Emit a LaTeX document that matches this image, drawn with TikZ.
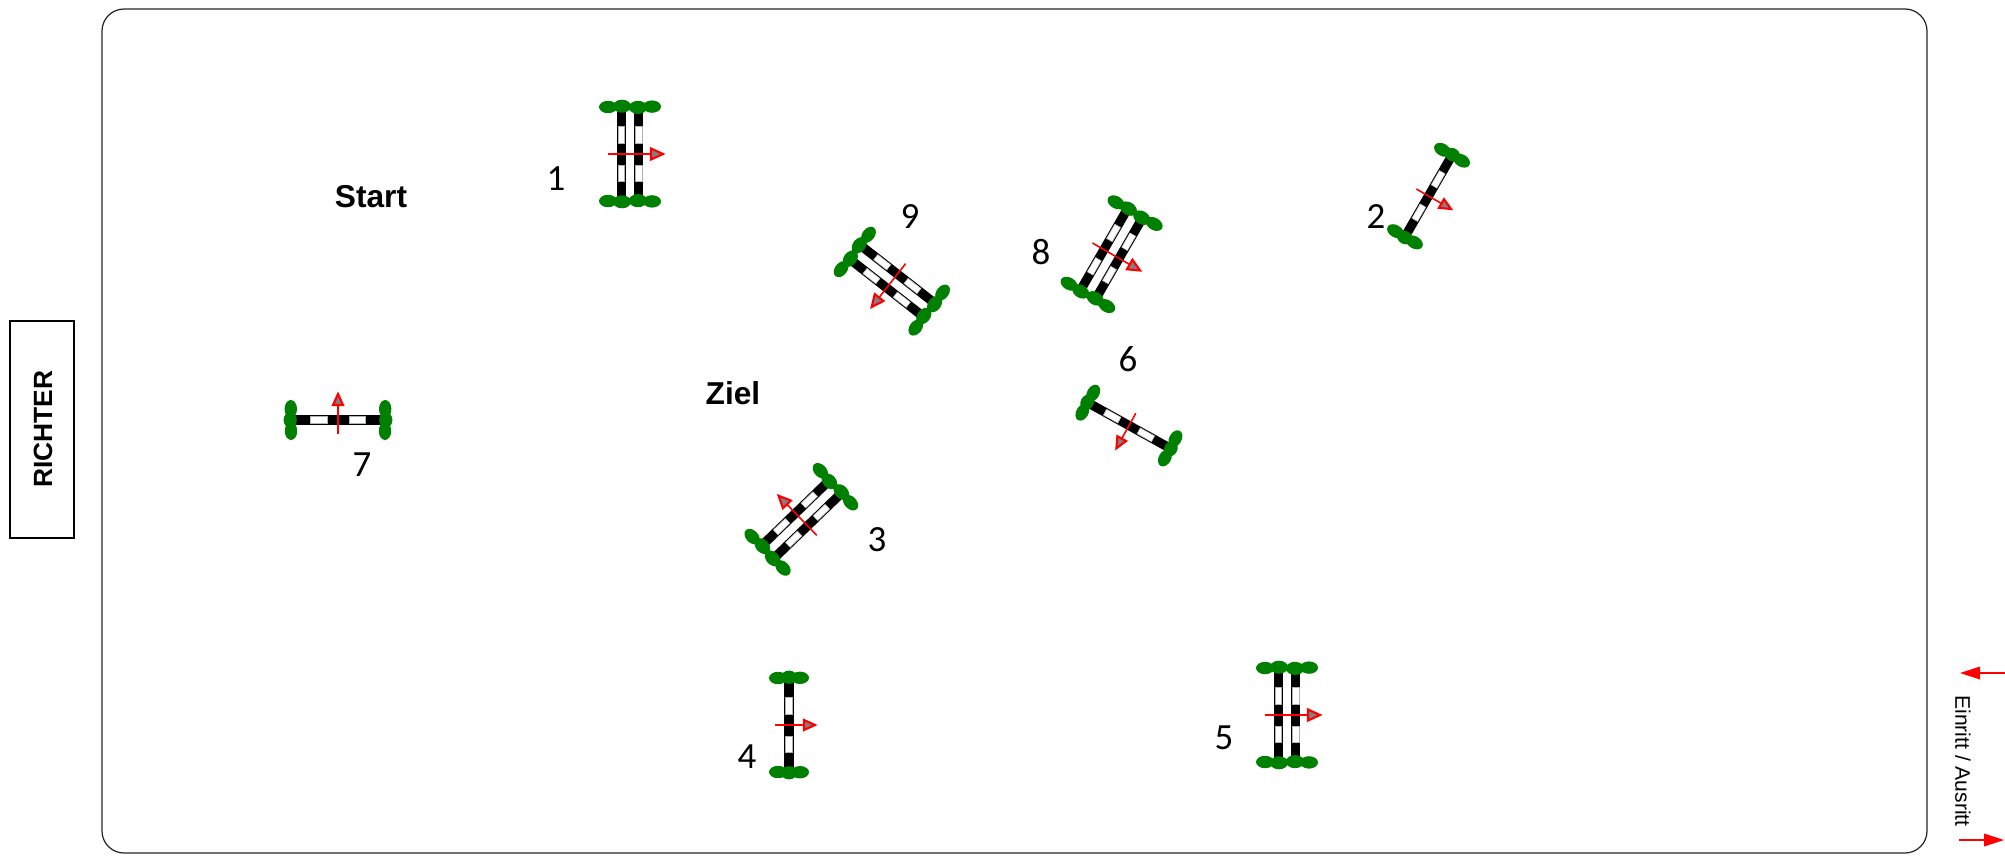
\documentclass[tikz,border=0pt]{standalone}
\usepackage{fontspec}
\setmainfont{Liberation Sans}
\newfontfamily\numfont{Carlito}
\definecolor{bush}{RGB}{0,128,0}
\tikzset{
  railbox/.style={fill=black},
  railgap/.style={fill=white,draw=gray!60,line width=0.15pt},
  bushfill/.style={fill=bush},
  jumparrow/.style={draw=red,line width=0.45pt},
  jumphead/.style={fill=gray,draw=red,line width=0.6pt,line join=miter},
  numlabel/.style={font=\numfont\fontsize{10.5}{12}\selectfont,inner sep=0pt},
  boldlabel/.style={font=\bfseries\fontsize{9}{11}\selectfont,inner sep=0pt},
}
\newcommand\railat[1]{%
  \fill[railbox] ({#1-4.6},-43) rectangle ({#1+4.6},43);
  \path[railgap] ({#1-3.3},-27.5) rectangle ({#1+3.3},-11);
  \path[railgap] ({#1-3.3},11) rectangle ({#1+3.3},27.5);
}
\newcommand\fenceD[3]{%
  \begin{scope}[shift={(#1,-#2)},rotate=#3]
    \railat{-8.75}\railat{8.75}
    \foreach \s in {-1,1}{
      \fill[bushfill] (-22,\s*47) ellipse (9 and 6.2)
                      (-8,\s*47.8) ellipse (9 and 6.5)
                      (8,\s*46.6) ellipse (9 and 6.6)
                      (22,\s*47.4) ellipse (9 and 6.2);}
    \draw[jumparrow] (-22,0) -- (22,0);
    \path[jumphead] (33,0) -- (21,5.5) -- (21,-5.5) -- cycle;
  \end{scope}}
\newcommand\fenceS[3]{%
  \begin{scope}[shift={(#1,-#2)},rotate=#3]
    \railat{0}
    \foreach \s in {-1,1}{
      \fill[bushfill] (-11,\s*47) ellipse (9 and 6.2)
                      (0,\s*47.8) ellipse (8 and 6.6)
                      (11,\s*47.2) ellipse (9 and 6.2);}
    \draw[jumparrow] (-14,0) -- (16,0);
    \path[jumphead] (26,0) -- (15,5) -- (15,-5) -- cycle;
  \end{scope}}
\begin{document}
\begin{tikzpicture}[x=0.01cm,y=0.01cm]
  \useasboundingbox (0,0) rectangle (2005,-857);
  % arena
  \draw[black!85,line width=0.35pt,rounded corners=0.22cm] (102,-9) rectangle (1927,-853);
  % judge box
  \draw[black,line width=0.4pt] (10,-321) rectangle (74,-538);
  \node[rotate=90,font=\bfseries\fontsize{7.5}{9}\selectfont,inner sep=0pt] (richter) at (43,-429) {RICHTER};
  % entrance / exit
  \node[rotate=-90,font=\fontsize{6}{7}\selectfont,inner sep=0pt] (einritt) at (1963,-761) {Einritt / Ausritt};
  \coordinate (inA) at (2005,-673);
  \coordinate (inB) at (1975,-673);
  \draw[red,line width=0.4pt] (inA) -- (inB);
  \fill[red] (1960,-673) -- (1980,-666.5) -- (1980,-679.5) -- cycle;
  \coordinate (outA) at (1959,-840);
  \coordinate (outB) at (1990,-840);
  \draw[red,line width=0.4pt] (outA) -- (outB);
  \fill[red] (2004,-840) -- (1984,-833.5) -- (1984,-846.5) -- cycle;
  % fences
  \fenceD{630}{154}{0}
  \fenceS{1428.5}{196}{-30}
  \fenceD{801.5}{519.5}{134}
  \fenceS{789}{725}{0}
  \fenceD{1287}{715}{0}
  \fenceS{1129}{425.5}{241}
  \fenceS{338}{420}{90}
  \fenceD{1111.5}{254}{-30}
  \fenceD{892}{281}{232}
  % labels
  \node[numlabel] (n1) at (556,-179) {1};
  \node[numlabel] (n2) at (1376,-217) {2};
  \node[numlabel] (n3) at (877,-540) {3};
  \node[numlabel] (n4) at (747,-757) {4};
  \node[numlabel] (n5) at (1224,-738) {5};
  \node[numlabel] (n6) at (1128,-359) {6};
  \node[numlabel] (n7) at (362,-465) {7};
  \node[numlabel] (n8) at (1041,-252) {8};
  \node[numlabel] (n9) at (910,-217) {9};
  \node[boldlabel] (start) at (371,-197) {Start};
  \node[boldlabel] (ziel) at (733,-393) {Ziel};
\end{tikzpicture}
\end{document}
